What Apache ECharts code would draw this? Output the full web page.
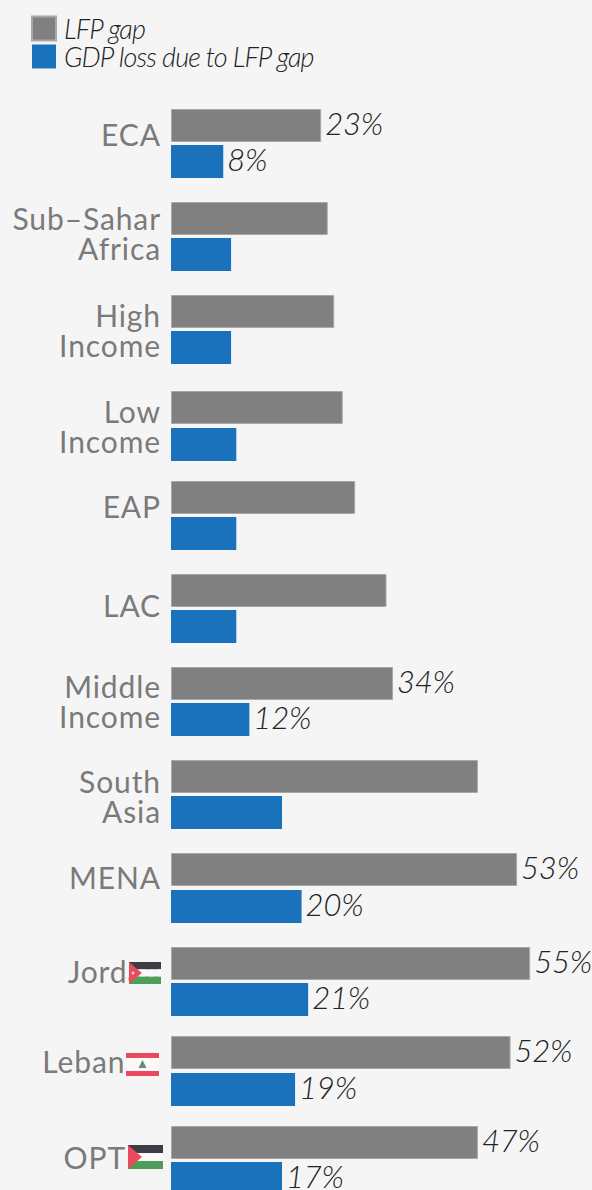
<!DOCTYPE html>
<html>
<head>
<meta charset="utf-8">
<style>
html,body{margin:0;padding:0;background:#f5f5f5;overflow:hidden}
#chart{width:592px;height:1190px}
#chart text{letter-spacing:0.9px}
#chart text[style*="27px"]{letter-spacing:-0.85px}
#chart text[style*="31px"]{letter-spacing:-0.2px}
</style>
<script src="https://cdn.jsdelivr.net/npm/echarts@6/dist/echarts.min.js"></script>
</head>
<body>
<div id="chart"></div>
<script>
// Regional values, in percent
const regions = ['ECA', 'Sub–Sahar\nAfrica', 'High\nIncome', 'Low\nIncome', 'EAP', 'LAC', 'Middle\nIncome', 'South\nAsia', 'MENA', 'Jordan', 'Lebanon', 'OPT'];
const lfpGap = [23, 24, 25, 26.3, 28.2, 33, 34, 47, 53, 55, 52, 47];
const gdpLoss = [8, 9.2, 9.2, 10, 10, 10, 12, 17, 20, 21, 19, 17];
// Rows whose values are printed next to the bars
const labelled = [true, false, false, false, false, false, true, false, true, true, true, true];

// Row layout: top of each row, gap between its two bars, axis label shift and margin
const rowTops = [109, 202, 295, 391, 481, 574, 667, 760, 853, 947, 1036, 1126];
const barGaps = [3, 3, 3, 4, 3, 3, 3, 3, 4, 3, 4, 3];
const labelShift = [-10, -4, 0, 0, -10, -4, -1.5, 1, -11, -11, -10, -4];
const labelMargin = [10, 10, 10, 10, 10, 10, 10, 10, 10, 10, 10, 45];
const BAR_SIZE = 33;
const LABEL_ROW = 70;
const plotLeft = 171;
const pxPerPercent = 6.53;

const GREY = '#808080', BLUE = '#1b72bc';

const grids = [], xAxes = [], yAxes = [], series = [];
const rowCount = regions.length;
regions.forEach((name, i) => {
  // Grid holding the two bars of this row
  grids.push({
    left: plotLeft, top: rowTops[i], width: 100 * pxPerPercent,
    height: 2 * BAR_SIZE + barGaps[i], outerBoundsMode: 'none'
  });
  xAxes.push({ gridIndex: i, type: 'value', min: 0, max: 100, show: false });
  yAxes.push({ gridIndex: i, type: 'category', inverse: true, data: [name], show: false });
  const pair = [
    { label: 'LFP gap', color: GREY, border: '#a8a8a8', value: lfpGap[i] },
    { label: 'GDP loss due to LFP gap', color: BLUE, border: BLUE, value: gdpLoss[i] }
  ];
  pair.forEach(s => series.push({
    name: s.label, type: 'bar', xAxisIndex: i, yAxisIndex: i,
    barWidth: BAR_SIZE, barGap: (barGaps[i] / BAR_SIZE * 100) + '%', data: [s.value],
    itemStyle: { color: s.color, borderColor: s.border, borderWidth: s.color === GREY ? 1 : 0 },
    silent: true,
    label: {
      show: labelled[i], position: 'right', distance: 4, offset: [0, -3], formatter: '{c}%',
      fontFamily: 'Lato', fontStyle: 'italic', fontWeight: 300, fontSize: 31, color: '#222222'
    }
  }));
});
// Separate grids carry the region names so each can sit at its own height
regions.forEach((name, i) => {
  const g = rowCount + i;
  grids.push({
    left: plotLeft, top: rowTops[i] + labelShift[i], width: 100 * pxPerPercent,
    height: LABEL_ROW, outerBoundsMode: 'none'
  });
  xAxes.push({ gridIndex: g, type: 'value', min: 0, max: 100, show: false });
  yAxes.push({
    gridIndex: g, type: 'category', inverse: true, data: [name],
    axisLine: { show: false }, axisTick: { show: false }, splitLine: { show: false },
    axisLabel: {
      color: '#7a7a7a', fontFamily: 'Lato', fontSize: 30, lineHeight: 30,
      margin: labelMargin[i], align: 'right'
    }
  });
});

// Small national flags sitting over the ends of the three country labels
function rect(x, y, w, h, fill) { return { type: 'rect', shape: { x, y, width: w, height: h }, style: { fill }, z: 50 }; }
function poly(points, fill) { return { type: 'polygon', shape: { points }, style: { fill }, z: 50 }; }
function stripedFlag(x, y, w, h) {
  const band = h / 3;
  return [
    rect(x, y, w, band, '#3c3c44'), rect(x, y + band, w, band, '#f9f7f7'), rect(x, y + 2 * band, w, band, '#4c9e58'),
    poly([[x, y], [x + w * 0.4, y + h / 2], [x, y + h]], '#ea4a5e')
  ];
}
const flags = [
  ...stripedFlag(129, 962, 32, 22),
  { type: 'circle', shape: { cx: 133, cy: 973, r: 1.5 }, style: { fill: '#f9c9cf' }, z: 51 },
  rect(126, 1053, 33, 23, '#fbf8f8'), rect(126, 1053, 33, 5, '#ea4a5e'), rect(126, 1071, 33, 5, '#ea4a5e'),
  poly([[142.5, 1060], [146.5, 1068], [138.5, 1068]], '#5f8f72'),
  ...stripedFlag(128, 1145, 35, 24)
];

const chart = echarts.init(document.getElementById('chart'), null, { renderer: 'svg' });
chart.setOption({
  animation: false,
  backgroundColor: '#f5f5f5',
  legend: {
    left: 31, top: 15, padding: 0, orient: 'vertical', itemWidth: 24, itemHeight: 24, itemGap: 1,
    icon: 'rect', selectedMode: false,
    data: ['LFP gap', 'GDP loss due to LFP gap'],
    textStyle: { fontFamily: 'Lato', fontStyle: 'italic', fontWeight: 300, fontSize: 27, color: '#222222', padding: [0, 0, 0, 3] }
  },
  grid: grids, xAxis: xAxes, yAxis: yAxes, series,
  graphic: flags
});
</script>
</body>
</html>
